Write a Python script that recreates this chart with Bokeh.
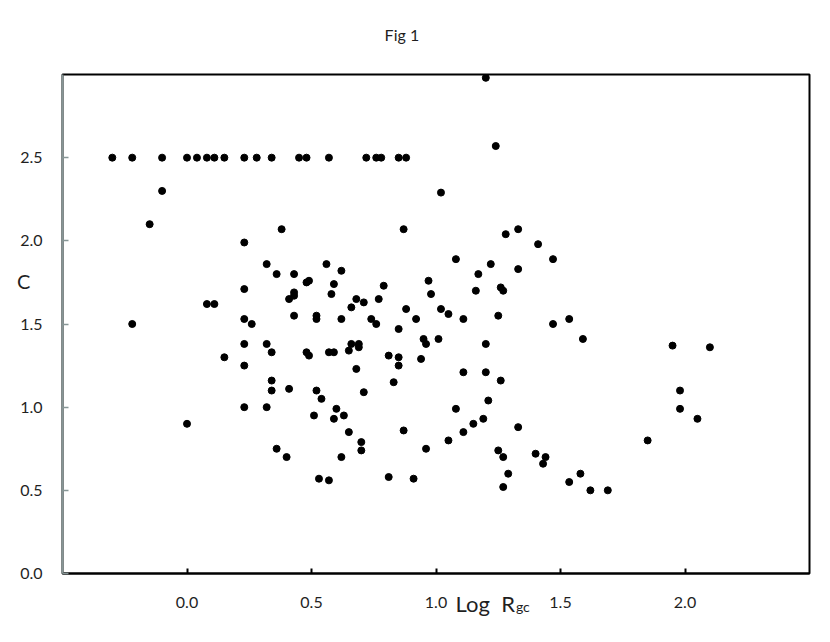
from bokeh.plotting import figure
from bokeh.models import Range1d, FixedTicker, PrintfTickFormatter, Label
from bokeh.embed import file_html
from bokeh.resources import INLINE

# ---- data (Log R_gc, C) ----
log_rgc = [
    # capped at C = 2.5
    -0.30, -0.22, -0.10, 0.00, 0.04, 0.08, 0.11, 0.15, 0.23, 0.28, 0.34, 0.45, 0.48,
    0.57, 0.72, 0.76, 0.78, 0.85, 0.88,
    # rest
    -0.10, -0.15, 0.38, 0.23, 0.32, 0.36, 0.43, 0.48, 0.49, 0.23, 0.43, 0.43, 0.41,
    0.08, 0.11, -0.22, 0.23, 0.26, 0.43, 0.52, 0.52,
    1.20, 1.24, 1.02, 0.87, 1.28, 1.33, 1.41, 1.47, 1.08, 0.56, 0.62, 1.22, 1.17, 1.33,
    0.59, 0.58, 0.79, 0.97, 0.98, 1.16, 1.26, 1.27, 0.68, 0.71, 0.66, 0.77, 0.88, 1.02,
    1.05, 0.62, 0.74, 0.76, 0.85, 0.92, 1.11, 1.25, 1.47, 1.535,
    0.23, 0.32, 0.34, 0.15, 0.23, 0.48, 0.49, 0.34, 0.34, 0.41, 0.52, 0.23, 0.32, 0.00,
    0.51, 0.36, 0.40, 0.53,
    0.95, 0.96, 1.01, 1.20, 0.66, 0.69, 0.69, 0.57, 0.59, 0.65, 0.81, 0.85, 0.85, 0.94,
    0.68, 1.11, 1.20, 1.26, 0.83, 0.71, 0.54, 1.21, 1.08, 0.60, 0.59, 0.63, 1.19, 1.15,
    1.33, 1.11, 0.65, 0.87, 1.05, 0.70, 0.70, 0.96, 0.62, 1.25, 1.27, 1.40, 1.44, 1.43,
    1.29, 1.27, 0.57, 0.81, 0.91, 1.535,
    1.59, 1.95, 2.10, 1.98, 1.98, 2.05, 1.85, 1.58, 1.62, 1.69,
]
c_vals = [
    2.50, 2.50, 2.50, 2.50, 2.50, 2.50, 2.50, 2.50, 2.50, 2.50, 2.50, 2.50, 2.50,
    2.50, 2.50, 2.50, 2.50, 2.50, 2.50,
    2.30, 2.10, 2.07, 1.99, 1.86, 1.80, 1.80, 1.75, 1.76, 1.71, 1.69, 1.67, 1.65,
    1.62, 1.62, 1.50, 1.53, 1.50, 1.55, 1.55, 1.53,
    2.98, 2.57, 2.29, 2.07, 2.04, 2.07, 1.98, 1.89, 1.89, 1.86, 1.82, 1.86, 1.80, 1.83,
    1.74, 1.68, 1.73, 1.76, 1.68, 1.70, 1.72, 1.70, 1.65, 1.63, 1.60, 1.65, 1.59, 1.59,
    1.56, 1.53, 1.53, 1.50, 1.47, 1.53, 1.53, 1.55, 1.50, 1.53,
    1.38, 1.38, 1.33, 1.30, 1.25, 1.33, 1.31, 1.16, 1.10, 1.11, 1.10, 1.00, 1.00, 0.90,
    0.95, 0.75, 0.70, 0.57,
    1.41, 1.38, 1.41, 1.38, 1.38, 1.38, 1.36, 1.33, 1.33, 1.34, 1.31, 1.30, 1.25, 1.29,
    1.23, 1.21, 1.21, 1.16, 1.15, 1.09, 1.05, 1.04, 0.99, 0.99, 0.93, 0.95, 0.93, 0.90,
    0.88, 0.85, 0.85, 0.86, 0.80, 0.79, 0.74, 0.75, 0.70, 0.74, 0.70, 0.72, 0.70, 0.66,
    0.60, 0.52, 0.56, 0.58, 0.57, 0.55,
    1.41, 1.37, 1.36, 1.10, 0.99, 0.93, 0.80, 0.60, 0.50, 0.50,
]

x_ticks = [0.0, 0.5, 1.0, 1.5, 2.0]
y_ticks = [0.0, 0.5, 1.0, 1.5, 2.0, 2.5]

title_text = "Fig 1"
y_label_text = "C"
x_label_main = "Log\u00a0\u00a0R"
x_label_sub = "gc"

FONT = "Lato"
TEXT_COLOR = "#1f1f1f"
AXIS_GRAY = "#879696"

p = figure(width=822, height=630,
           x_range=Range1d(-0.5, 2.5), y_range=Range1d(0.0, 3.0),
           output_backend="svg", toolbar_location=None,
           min_border_left=62, min_border_right=13,
           min_border_top=74, min_border_bottom=57)

p.xgrid.visible = False
p.ygrid.visible = False
p.outline_line_color = "black"
p.outline_line_width = 2
p.background_fill_color = "white"
p.border_fill_color = "white"

# x axis
xa = p.xaxis[0]
xa.ticker = FixedTicker(ticks=x_ticks)
xa.formatter = PrintfTickFormatter(format="%.1f")
xa.axis_line_color = "black"
xa.axis_line_width = 2
xa.major_tick_line_color = "black"
xa.major_tick_line_width = 2
xa.major_tick_in = 5
xa.major_tick_out = 0
xa.minor_tick_line_color = None
xa.major_label_text_font = FONT
xa.major_label_text_font_size = "16px"
xa.major_label_text_color = TEXT_COLOR
xa.major_label_standoff = 23

# y axis
ya = p.yaxis[0]
ya.ticker = FixedTicker(ticks=y_ticks)
ya.formatter = PrintfTickFormatter(format="%.1f")
ya.axis_line_color = AXIS_GRAY
ya.axis_line_width = 2
ya.major_tick_line_color = AXIS_GRAY
ya.major_tick_line_width = 1.5
ya.major_tick_in = 6
ya.major_tick_out = 0
ya.minor_tick_line_color = None
ya.major_label_text_font = FONT
ya.major_label_text_font_size = "16px"
ya.major_label_text_color = TEXT_COLOR
ya.major_label_standoff = 20

p.scatter(log_rgc, c_vals, size=7, color="black", line_color="black")

# texts placed in data coordinates; side panels keep them from being clipped
p.add_layout(Label(x=0.863, y=3.24, text=title_text, text_font=FONT,
                   text_font_size="16px", text_color=TEXT_COLOR,
                   text_align="center", text_baseline="middle"), "above")
p.add_layout(Label(x=-0.656, y=1.759, text=y_label_text, text_font=FONT,
                   text_font_size="20px", text_color=TEXT_COLOR,
                   text_align="center", text_baseline="middle"), "left")
p.add_layout(Label(x=1.317, y=-0.1805, text=x_label_main, text_font=FONT,
                   text_font_size="22px", text_color=TEXT_COLOR,
                   text_align="right", text_baseline="alphabetic"), "above")
p.add_layout(Label(x=1.321, y=-0.201, text=x_label_sub, text_font=FONT,
                   text_font_size="14px", text_color=TEXT_COLOR,
                   text_align="left", text_baseline="alphabetic"), "above")

open("out.html", "w").write(file_html(p, INLINE))
